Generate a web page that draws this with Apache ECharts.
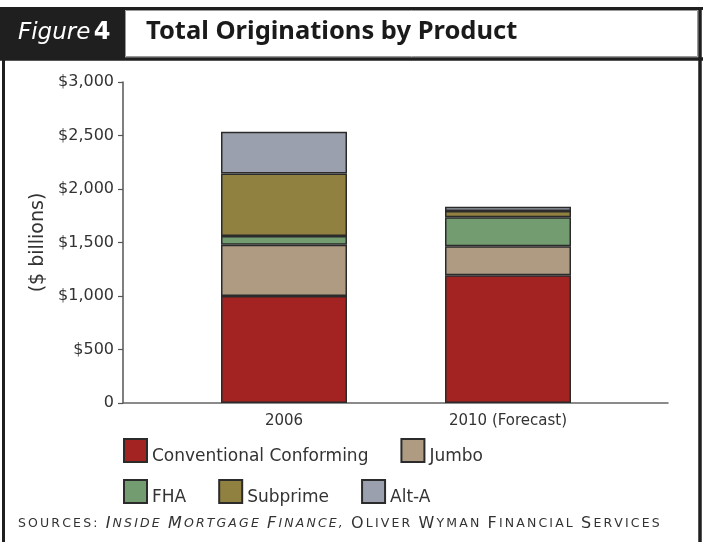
<!DOCTYPE html>
<html>
<head>
<meta charset="utf-8">
<script src="https://cdn.jsdelivr.net/npm/echarts@6/dist/echarts.min.js"></script>
<style>
html,body{margin:0;padding:0;background:#fff;}
#main{width:703px;height:542px;}
</style>
</head>
<body>
<div id="main"></div>
<script>
var categories = ['2006', '2010 (Forecast)'];
var conventional = [1000, 1195];
var jumbo = [480, 270];
var fha = [80, 270];
var subprime = [585, 60];
var altA = [390, 40];
var yTicks = [0, 500, 1000, 1500, 2000, 2500, 3000];
var sourceParts = [
  { text: 'Sources:', italic: false, smallOnly: true },
  { text: ' ', italic: false },
  { text: 'Inside Mortgage Finance,', italic: true },
  { text: ' ', italic: false },
  { text: 'Oliver Wyman Financial Services', italic: false }
];

var FONT = 'DejaVu Sans';
var chart = echarts.init(document.getElementById('main'));

function mk(name, data, color) {
  return {
    name: name, type: 'bar', stack: 'total', data: data,
    xAxisIndex: 0, yAxisIndex: 0, barWidth: 126,
    itemStyle: { color: color, borderColor: '#2b2b2b', borderWidth: 1.5 }
  };
}

// small-caps with letter spacing built from rich-text tokens
function smallCaps(parts) {
  var out = '';
  parts.forEach(function (p) {
    for (var i = 0; i < p.text.length; i++) {
      var ch = p.text[i];
      var isCap = !p.smallOnly && ch !== ch.toLowerCase();
      var key = (isCap ? 'c' : 's') + (p.italic ? 'i' : '');
      out += '{' + key + '|' + ch.toUpperCase() + '}';
    }
  });
  return out;
}
var sp = [0, 2.15, 0, 0];
var richSC = {
  s: { fontFamily: FONT, fontSize: 12.5, fill: '#333', padding: sp },
  si: { fontFamily: FONT, fontSize: 12.5, fill: '#333', fontStyle: 'italic', padding: sp },
  c: { fontFamily: FONT, fontSize: 16, fill: '#333', padding: sp },
  ci: { fontFamily: FONT, fontSize: 16, fill: '#333', fontStyle: 'italic', padding: sp }
};
var legendText = {
  fontSize: 17, color: '#333', fontFamily: FONT,
  rich: { t: { fontSize: 17, color: '#333', fontFamily: FONT, padding: [12, 0, 0, 0] } }
};
function legendFmt(name) { return '{t|' + name + '}'; }

var option = {
  animation: false,
  backgroundColor: '#ffffff',
  textStyle: { fontFamily: FONT },
  grid: [
    { left: 172, width: 448, top: 82, height: 321 },
    { left: 123, right: 35, top: 82, height: 321 }
  ],
  xAxis: [
    { gridIndex: 0, type: 'category', data: categories,
      axisLine: { show: false }, axisTick: { show: false },
      axisLabel: { fontSize: 15, color: '#333', margin: 11, fontFamily: FONT } },
    { gridIndex: 1, type: 'value', min: 0, max: 1,
      axisLine: { show: true, lineStyle: { color: '#666', width: 1.5 } },
      axisTick: { show: false }, axisLabel: { show: false }, splitLine: { show: false } }
  ],
  yAxis: [
    { gridIndex: 0, type: 'value', min: 0, max: 3000, interval: 500, show: false },
    { gridIndex: 1, type: 'value', min: yTicks[0], max: yTicks[yTicks.length - 1], interval: 500,
      axisLine: { show: true, lineStyle: { color: '#555', width: 1.5 } },
      axisTick: { show: true, length: 5, lineStyle: { color: '#555', width: 1.2 } },
      splitLine: { show: false },
      axisLabel: { fontSize: 16, color: '#333', margin: 9, fontFamily: FONT,
        formatter: function (v) { return v === 0 ? '0' : '$' + v.toLocaleString('en-US'); } },
      name: '($ billions)', nameLocation: 'middle', nameGap: 75,
      nameTextStyle: { fontSize: 19, color: '#333', fontFamily: FONT } }
  ],
  legend: [
    { left: 123, top: 438, padding: 0, itemWidth: 23, itemHeight: 23, itemGap: 32, icon: 'rect',
      selectedMode: false, data: ['Conventional Conforming', 'Jumbo'],
      formatter: legendFmt, textStyle: legendText },
    { left: 123, top: 479, padding: 0, itemWidth: 23, itemHeight: 23, itemGap: 32, icon: 'rect',
      selectedMode: false, data: ['FHA', 'Subprime', 'Alt-A'],
      formatter: legendFmt, textStyle: legendText }
  ],
  series: [
    mk('Conventional Conforming', conventional, '#a32323'),
    mk('Jumbo', jumbo, '#af9a82'),
    mk('FHA', fha, '#739d70'),
    mk('Subprime', subprime, '#918141'),
    mk('Alt-A', altA, '#9aa0ad')
  ],
  graphic: [
    { type: 'rect', shape: { x: 0, y: 7, width: 125, height: 53 }, style: { fill: '#1f1f1f' }, silent: true },
    { type: 'rect', shape: { x: 125.5, y: 10.5, width: 572, height: 46 }, style: { fill: 'none', stroke: '#999', lineWidth: 1 }, silent: true },
    { type: 'line', shape: { x1: 0, y1: 8.5, x2: 703, y2: 8.5 }, style: { stroke: '#1f1f1f', lineWidth: 3 }, silent: true },
    { type: 'line', shape: { x1: 0, y1: 59, x2: 703, y2: 59 }, style: { stroke: '#1f1f1f', lineWidth: 3.5 }, silent: true },
    { type: 'line', shape: { x1: 3.5, y1: 7, x2: 3.5, y2: 542 }, style: { stroke: '#1f1f1f', lineWidth: 3 }, silent: true },
    { type: 'line', shape: { x1: 700, y1: 7, x2: 700, y2: 542 }, style: { stroke: '#1f1f1f', lineWidth: 3.5 }, silent: true },
    { type: 'text', left: 18, top: 21, silent: true,
      style: { text: '{a|Figure} {b|4}', rich: {
        a: { fontFamily: FONT, fontStyle: 'italic', fontSize: 23, fill: '#fff', fontWeight: 'normal' },
        b: { fontFamily: FONT, fontWeight: 'bold', fontSize: 24, fill: '#fff' } } } },
    { type: 'text', left: 146, top: 19, silent: true,
      style: { text: 'Total Originations by Product', fontFamily: 'Noto Sans', fontWeight: 'bold', fontSize: 25.5, fill: '#1a1a1a' } },
    { type: 'text', left: 18, top: 516, silent: true,
      style: { text: smallCaps(sourceParts), rich: richSC } }
  ]
};
chart.setOption(option);
</script>
</body>
</html>
